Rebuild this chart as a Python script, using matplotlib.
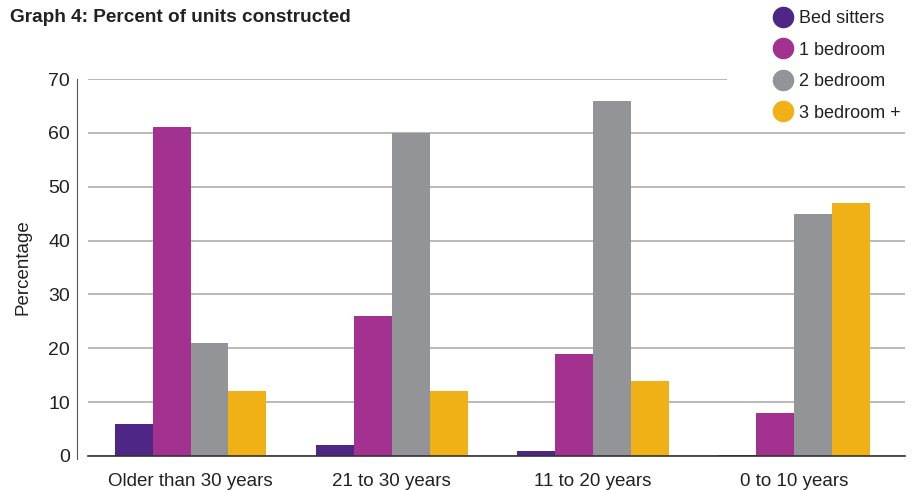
import numpy as np
import matplotlib
matplotlib.use("Agg")
import matplotlib.pyplot as plt
from matplotlib.lines import Line2D
from matplotlib.patches import Rectangle

plt.rcParams['font.family'] = ['Liberation Sans Narrow', 'Liberation Sans', 'DejaVu Sans']

groups = ["Older than 30 years", "21 to 30 years", "11 to 20 years", "0 to 10 years"]
series = ["Bed sitters", "1 bedroom", "2 bedroom", "3 bedroom +"]
bed_sitters = [6, 2, 1, 0.2]
one_bed = [61, 26, 19, 8]
two_bed = [21, 60, 66, 45]
three_bed = [12, 12, 14, 47]
colors = ["#4e2685", "#a3318f", "#929497", "#efb116"]

values = [bed_sitters, one_bed, two_bed, three_bed]

fig = plt.figure(figsize=(9.22, 4.9), dpi=100)
ax = fig.add_axes([88/922, 1 - 456/490, (905-88)/922, (456-79)/490])

x = np.arange(len(groups))
w = 0.188
for i, (vals, c) in enumerate(zip(values, colors)):
    ax.bar(x + (i - 1.5) * w, vals, w, color=c, zorder=3)

ax.set_xlim(-0.51, 3.55)
ax.set_ylim(0, 70)
ax.set_yticks(range(0, 71, 10))
ax.yaxis.grid(True, color="#a6a6a6", linewidth=1.1, zorder=0)
ax.set_xticks(x)
ax.set_xticklabels(groups)
ax.tick_params(axis="both", length=0, labelsize=13.5, labelcolor="#222222")
ax.tick_params(axis="x", pad=12)
ax.tick_params(axis="y", pad=5, labelsize=14)

for s in ["top", "right"]:
    ax.spines[s].set_visible(False)
ax.spines["left"].set_position(("outward", 8))
ax.spines["left"].set_color("#555555")
ax.spines["left"].set_bounds(-0.6, 70)
ax.spines["bottom"].set_color("#333333")
ax.spines["bottom"].set_linewidth(1.2)
ax.spines["bottom"].set_zorder(4)

ax.set_ylabel("Percentage", fontsize=13.5, color="#222222", labelpad=12)

fig.text(10/922, 1 - 18/490, "Graph 4: Percent of units constructed",
         fontsize=13.7, fontweight="bold", color="#222222", va="center", ha="left")

# white area behind the legend hides the top gridline
fig.add_artist(Rectangle((727/922, 1 - 125/490), 1, 1, transform=fig.transFigure,
                         facecolor="white", edgecolor="none", zorder=1))

handles = [Line2D([], [], marker="o", linestyle="none", markersize=14.5,
                  markerfacecolor=c, markeredgecolor=c) for c in colors]
leg = fig.legend(handles, series, loc="upper left", bbox_to_anchor=(760/922, 1.005),
                 frameon=False, fontsize=13, handletextpad=0.25, labelspacing=0.8,
                 borderpad=0.2, handlelength=1.2)
leg.set_zorder(5)
for t in leg.get_texts():
    t.set_color("#222222")

fig.savefig("out.png", dpi=100)
